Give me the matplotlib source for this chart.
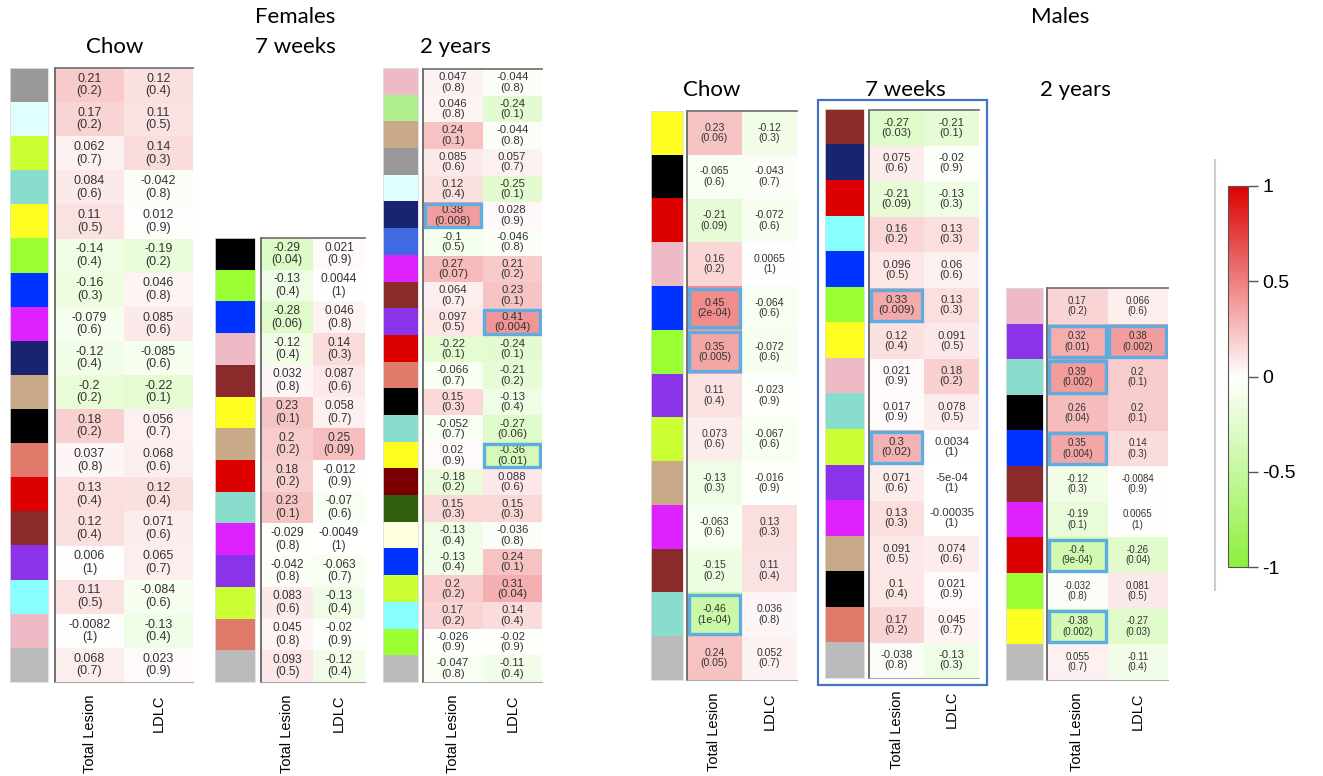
import numpy as np
import matplotlib
matplotlib.use("Agg")
import matplotlib.pyplot as plt
from matplotlib.colors import LinearSegmentedColormap, to_rgb
from matplotlib.patches import Rectangle
from matplotlib.cm import ScalarMappable
from matplotlib.colors import Normalize

# ----------------- module colours -----------------
GREY60 = "#999999"; LIGHTCYAN = "#E0FFFF"; GREENYELLOW = "#CCFF33"
TURQ = "#88DDCC"; YELLOW = "#FFFF22"; GREEN = "#99FF33"; BLUE = "#0033FF"
MAGENTA = "#DD22FF"; NAVY = "#1A2370"; TAN = "#C8AA88"; BLACK = "#000000"
SALMON = "#E07A6A"; RED = "#DD0000"; BROWN = "#8B2A2A"; PURPLE = "#8A33E8"
CYAN = "#88FFFF"; PINK = "#EDBAC6"; LGREY = "#BBBBBB"; LGREEN = "#B0EE90"
ROYAL = "#4169E1"; DARKRED = "#7B0000"; DKGREEN = "#2F5F0F"; LYELLOW = "#FFFFE0"

# ----------------- Females, chow -----------------
f_chow_colors = [GREY60, LIGHTCYAN, GREENYELLOW, TURQ, YELLOW, GREEN, BLUE, MAGENTA, NAVY,
                 TAN, BLACK, SALMON, RED, BROWN, PURPLE, CYAN, PINK, LGREY]
f_chow_tl_r = ["0.21", "0.17", "0.062", "0.084", "0.11", "-0.14", "-0.16", "-0.079", "-0.12",
               "-0.2", "0.18", "0.037", "0.13", "0.12", "0.006", "0.11", "-0.0082", "0.068"]
f_chow_tl_p = ["0.2", "0.2", "0.7", "0.6", "0.5", "0.4", "0.3", "0.6", "0.4",
               "0.2", "0.2", "0.8", "0.4", "0.4", "1", "0.5", "1", "0.7"]
f_chow_ld_r = ["0.12", "0.11", "0.14", "-0.042", "0.012", "-0.19", "0.046", "0.085", "-0.085",
               "-0.22", "0.056", "0.068", "0.12", "0.071", "0.065", "-0.084", "-0.13", "0.023"]
f_chow_ld_p = ["0.4", "0.5", "0.3", "0.8", "0.9", "0.2", "0.8", "0.6", "0.6",
               "0.1", "0.7", "0.6", "0.4", "0.6", "0.7", "0.6", "0.4", "0.9"]
f_chow_boxes = []

# ----------------- Females, 7 weeks -----------------
f_7w_colors = [BLACK, GREEN, BLUE, PINK, BROWN, YELLOW, TAN, RED, TURQ, MAGENTA, PURPLE,
               GREENYELLOW, SALMON, LGREY]
f_7w_tl_r = ["-0.29", "-0.13", "-0.28", "-0.12", "0.032", "0.23", "0.2", "0.18", "0.23",
             "-0.029", "-0.042", "0.083", "0.045", "0.093"]
f_7w_tl_p = ["0.04", "0.4", "0.06", "0.4", "0.8", "0.1", "0.2", "0.2", "0.1",
             "0.8", "0.8", "0.6", "0.8", "0.5"]
f_7w_ld_r = ["0.021", "0.0044", "0.046", "0.14", "0.087", "0.058", "0.25", "-0.012", "-0.07",
             "-0.0049", "-0.063", "-0.13", "-0.02", "-0.12"]
f_7w_ld_p = ["0.9", "1", "0.8", "0.3", "0.6", "0.7", "0.09", "0.9", "0.6",
             "1", "0.7", "0.4", "0.9", "0.4"]
f_7w_boxes = []

# ----------------- Females, 2 years -----------------
f_2y_colors = [PINK, LGREEN, TAN, GREY60, LIGHTCYAN, NAVY, ROYAL, MAGENTA, BROWN, PURPLE,
               RED, SALMON, BLACK, TURQ, YELLOW, DARKRED, DKGREEN, LYELLOW, BLUE,
               GREENYELLOW, CYAN, GREEN, LGREY]
f_2y_tl_r = ["0.047", "0.046", "0.24", "0.085", "0.12", "0.38", "-0.1", "0.27", "0.064",
             "0.097", "-0.22", "-0.066", "0.15", "-0.052", "0.02", "-0.18", "0.15", "-0.13",
             "-0.13", "0.2", "0.17", "-0.026", "-0.047"]
f_2y_tl_p = ["0.8", "0.8", "0.1", "0.6", "0.4", "0.008", "0.5", "0.07", "0.7",
             "0.5", "0.1", "0.7", "0.3", "0.7", "0.9", "0.2", "0.3", "0.4",
             "0.4", "0.2", "0.2", "0.9", "0.8"]
f_2y_ld_r = ["-0.044", "-0.24", "-0.044", "0.057", "-0.25", "0.028", "-0.046", "0.21", "0.23",
             "0.41", "-0.24", "-0.21", "-0.13", "-0.27", "-0.36", "0.088", "0.15", "-0.036",
             "0.24", "0.31", "0.14", "-0.02", "-0.11"]
f_2y_ld_p = ["0.8", "0.1", "0.8", "0.7", "0.1", "0.9", "0.8", "0.2", "0.1",
             "0.004", "0.1", "0.2", "0.4", "0.06", "0.01", "0.6", "0.3", "0.8",
             "0.1", "0.04", "0.4", "0.9", "0.4"]
f_2y_boxes = [(5, 0), (9, 1), (14, 1)]

# ----------------- Males, chow -----------------
m_chow_colors = [YELLOW, BLACK, RED, PINK, BLUE, GREEN, PURPLE, GREENYELLOW, TAN, MAGENTA,
                 BROWN, TURQ, LGREY]
m_chow_tl_r = ["0.23", "-0.065", "-0.21", "0.16", "0.45", "0.35", "0.11", "0.073", "-0.13",
               "-0.063", "-0.15", "-0.46", "0.24"]
m_chow_tl_p = ["0.06", "0.6", "0.09", "0.2", "2e-04", "0.005", "0.4", "0.6", "0.3",
               "0.6", "0.2", "1e-04", "0.05"]
m_chow_ld_r = ["-0.12", "-0.043", "-0.072", "0.0065", "-0.064", "-0.072", "-0.023", "-0.067",
               "-0.016", "0.13", "0.11", "0.036", "0.052"]
m_chow_ld_p = ["0.3", "0.7", "0.6", "1", "0.6", "0.6", "0.9", "0.6", "0.9",
               "0.3", "0.4", "0.8", "0.7"]
m_chow_boxes = [(4, 0), (5, 0), (11, 0)]

# ----------------- Males, 7 weeks -----------------
m_7w_colors = [BROWN, NAVY, RED, CYAN, BLUE, GREEN, YELLOW, PINK, TURQ, GREENYELLOW, PURPLE,
               MAGENTA, TAN, BLACK, SALMON, LGREY]
m_7w_tl_r = ["-0.27", "0.075", "-0.21", "0.16", "0.096", "0.33", "0.12", "0.021", "0.017",
             "0.3", "0.071", "0.13", "0.091", "0.1", "0.17", "-0.038"]
m_7w_tl_p = ["0.03", "0.6", "0.09", "0.2", "0.5", "0.009", "0.4", "0.9", "0.9",
             "0.02", "0.6", "0.3", "0.5", "0.4", "0.2", "0.8"]
m_7w_ld_r = ["-0.21", "-0.02", "-0.13", "0.13", "0.06", "0.13", "0.091", "0.18", "0.078",
             "0.0034", "-5e-04", "-0.00035", "0.074", "0.021", "0.045", "-0.13"]
m_7w_ld_p = ["0.1", "0.9", "0.3", "0.3", "0.6", "0.3", "0.5", "0.2", "0.5",
             "1", "1", "1", "0.6", "0.9", "0.7", "0.3"]
m_7w_boxes = [(5, 0), (9, 0)]

# ----------------- Males, 2 years -----------------
m_2y_colors = [PINK, PURPLE, TURQ, BLACK, BLUE, BROWN, MAGENTA, RED, GREEN, YELLOW, LGREY]
m_2y_tl_r = ["0.17", "0.32", "0.39", "0.26", "0.35", "-0.12", "-0.19", "-0.4", "-0.032",
             "-0.38", "0.055"]
m_2y_tl_p = ["0.2", "0.01", "0.002", "0.04", "0.004", "0.3", "0.1", "9e-04", "0.8",
             "0.002", "0.7"]
m_2y_ld_r = ["0.066", "0.38", "0.2", "0.2", "0.14", "-0.0084", "0.0065", "-0.26", "0.081",
             "-0.27", "-0.11"]
m_2y_ld_p = ["0.6", "0.002", "0.1", "0.1", "0.3", "0.9", "1", "0.04", "0.5",
             "0.03", "0.4"]
m_2y_boxes = [(1, 0), (1, 1), (2, 0), (4, 0), (7, 0), (9, 0)]

col_labels = ["Total Lesion", "LDLC"]

# ----------------- figure -----------------
W, H = 1323, 776
fig = plt.figure(figsize=(W / 100, H / 100), dpi=100)
fig.patch.set_facecolor("white")

cmap = LinearSegmentedColormap.from_list("gwr", ["#8CF03C", "#FFFFFF", "#DD0000"])
norm = Normalize(-1, 1)
TITLE_FONT = ["Lato", "DejaVu Sans"]
CELL_FONT = ["Liberation Sans", "DejaVu Sans"]


def px_axes(x0, y0, x1, y1):
    return fig.add_axes([x0 / W, 1 - y1 / H, (x1 - x0) / W, (y1 - y0) / H])


def panel(colors, tl_r, tl_p, ld_r, ld_p, boxes, strip, heat, fs):
    n = len(colors)
    # colour strip
    sax = px_axes(*strip)
    rgb = np.array([to_rgb(c) for c in colors])[:, None, :]
    sax.imshow(rgb, aspect="auto", extent=(0, 1, n, 0), interpolation="nearest")
    sax.set_xticks([]); sax.set_yticks([])
    for s in sax.spines.values():
        s.set_color("#DDDDDD"); s.set_linewidth(0.6)

    # heatmap
    ax = px_axes(*heat)
    vals = np.array([[float(a), float(b)] for a, b in zip(tl_r, ld_r)])
    ax.pcolormesh(np.arange(3), np.arange(n + 1), vals, cmap=cmap, norm=norm)
    ax.set_xlim(0, 2); ax.set_ylim(n, 0)
    for i in range(n):
        ax.text(0.5, i + 0.5, f"{tl_r[i]}\n({tl_p[i]})", ha="center", va="center",
                fontsize=fs, color="#333333", linespacing=1.05, family=CELL_FONT)
        ax.text(1.5, i + 0.5, f"{ld_r[i]}\n({ld_p[i]})", ha="center", va="center",
                fontsize=fs, color="#333333", linespacing=1.05, family=CELL_FONT)
    for (r, c) in boxes:
        ax.add_patch(Rectangle((c + 0.03, r + 0.06), 0.94, 0.88, fill=False,
                               edgecolor="#5DADE2", lw=2.4, zorder=5))
    ax.set_yticks([])
    ax.set_xticks([0.5, 1.5])
    ax.set_xticklabels(col_labels, rotation=90, fontsize=10.5, family=CELL_FONT)
    ax.tick_params(axis="x", length=0, pad=9)
    ax.spines["left"].set_color("#666666"); ax.spines["left"].set_linewidth(1.3)
    ax.spines["top"].set_color("#777777"); ax.spines["top"].set_linewidth(1.3)
    ax.spines["bottom"].set_color("#AAAAAA"); ax.spines["bottom"].set_linewidth(0.8)
    ax.spines["right"].set_visible(False)
    return ax


panel(f_chow_colors, f_chow_tl_r, f_chow_tl_p, f_chow_ld_r, f_chow_ld_p, f_chow_boxes,
      (10, 68, 48, 682), (55, 68, 193, 682), 9)
panel(f_7w_colors, f_7w_tl_r, f_7w_tl_p, f_7w_ld_r, f_7w_ld_p, f_7w_boxes,
      (215, 238, 255, 682), (261, 238, 365, 682), 8.6)
panel(f_2y_colors, f_2y_tl_r, f_2y_tl_p, f_2y_ld_r, f_2y_ld_p, f_2y_boxes,
      (383, 68, 418, 682), (423, 69, 542, 682), 8.2)
panel(m_chow_colors, m_chow_tl_r, m_chow_tl_p, m_chow_ld_r, m_chow_ld_p, m_chow_boxes,
      (651, 111, 683, 680), (687, 111, 797, 680), 7.6)
panel(m_7w_colors, m_7w_tl_r, m_7w_tl_p, m_7w_ld_r, m_7w_ld_p, m_7w_boxes,
      (825, 109, 864, 678), (869, 110, 979, 678), 8.2)
panel(m_2y_colors, m_2y_tl_r, m_2y_tl_p, m_2y_ld_r, m_2y_ld_p, m_2y_boxes,
      (1006, 288, 1043, 680), (1047, 288, 1168, 680), 7)

# blue frame round Males 7 weeks
fig.add_artist(Rectangle((818 / W, 1 - 685 / H), (987 - 818) / W, (685 - 100) / H,
                         transform=fig.transFigure, fill=False, edgecolor="#4472C4", lw=1.6))
# separator line left of the colour key
fig.add_artist(plt.Line2D([1215 / W, 1215 / W], [1 - 160 / H, 1 - 590 / H],
                          transform=fig.transFigure, color="#CCCCCC", lw=1.5))

# titles
titles = [("Females", 295, 17), ("Chow", 115, 47), ("7 weeks", 295, 47), ("2 years", 455, 47),
          ("Males", 1060, 17), ("Chow", 712, 90), ("7 weeks", 905, 90), ("2 years", 1075, 90)]
for t, x, y in titles:
    fig.text(x / W, 1 - y / H, t, ha="center", va="center", fontsize=16, family=TITLE_FONT)

# colour key
cax = px_axes(1228, 186, 1248, 567)
cb = fig.colorbar(ScalarMappable(norm=norm, cmap=cmap), cax=cax, ticks=[-1, -0.5, 0, 0.5, 1])
cb.ax.set_yticklabels(["-1", "-0.5", "0", "0.5", "1"], fontsize=14, family=CELL_FONT)
cb.ax.tick_params(length=7, width=1, color="#555555")
cb.outline.set_edgecolor("#555555")

fig.savefig("out.png", dpi=100)
